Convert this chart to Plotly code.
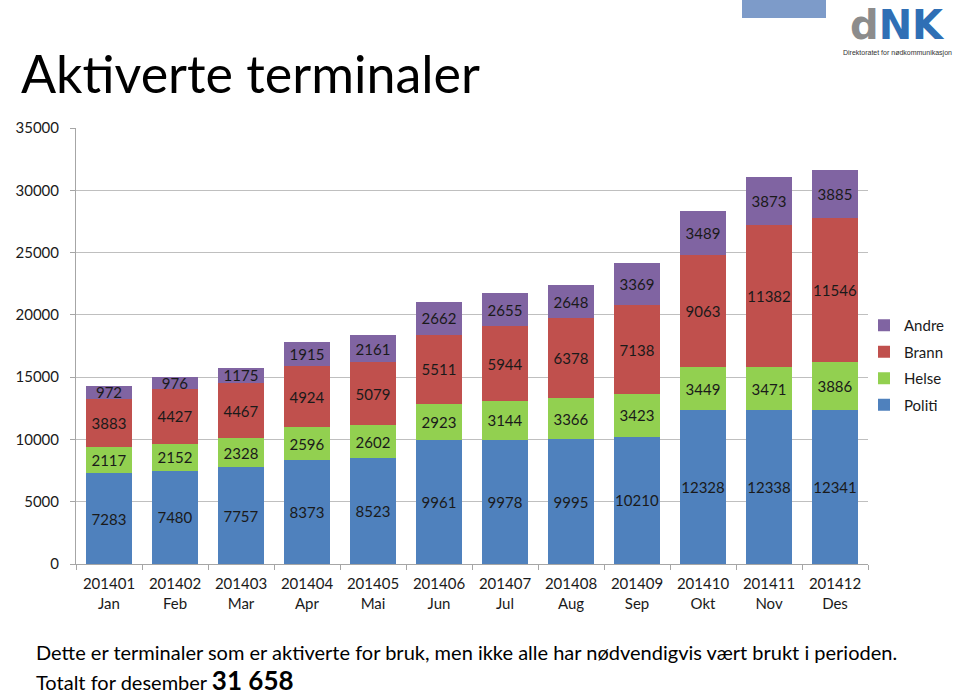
import plotly.graph_objects as go

categories = ["201401<br>Jan", "201402<br>Feb", "201403<br>Mar", "201404<br>Apr",
              "201405<br>Mai", "201406<br>Jun", "201407<br>Jul", "201408<br>Aug",
              "201409<br>Sep", "201410<br>Okt", "201411<br>Nov", "201412<br>Des"]
politi = [7283, 7480, 7757, 8373, 8523, 9961, 9978, 9995, 10210, 12328, 12338, 12341]
helse = [2117, 2152, 2328, 2596, 2602, 2923, 3144, 3366, 3423, 3449, 3471, 3886]
brann = [3883, 4427, 4467, 4924, 5079, 5511, 5944, 6378, 7138, 9063, 11382, 11546]
andre = [972, 976, 1175, 1915, 2161, 2662, 2655, 2648, 3369, 3489, 3873, 3885]

series = [("Politi", politi, "#4F81BD"), ("Helse", helse, "#92D050"),
          ("Brann", brann, "#C0504D"), ("Andre", andre, "#8064A2")]

FONT = "Lato"
fig = go.Figure()
for i, (name, vals, col) in enumerate(series):
    fig.add_trace(go.Bar(
        x=categories, y=vals, name=name, legendgroup=name, legendrank=100 - i,
        marker=dict(color=col, line=dict(width=0)),
        text=[str(v) for v in vals], textposition="inside", insidetextanchor="middle",
        textangle=0, textfont=dict(family=FONT, size=15, color="#1a1a1a"),
        hoverinfo="skip"))

L, R, T, B = 76, 92, 128, 130
pw = 960 - L - R
ph = 694 - T - B
def px(x): return (x - L) / pw
def py(y): return (694 - B - y) / ph

fig.update_layout(
    width=960, height=694, barmode="stack", bargap=0.3,
    margin=dict(l=L, r=R, t=T, b=B, autoexpand=False),
    paper_bgcolor="white", plot_bgcolor="white",
    font=dict(family=FONT, size=15, color="#1a1a1a"),
    uniformtext=dict(minsize=15, mode="show"),
    title=dict(text="Aktiverte terminaler", xref="container", yref="container",
               x=21/960, xanchor="left", y=1 - 75/694, yanchor="middle",
               font=dict(family=FONT, size=52, color="#000000")),
    legend=dict(x=px(864), y=py(309), xanchor="left", yanchor="top",
                traceorder="grouped", font=dict(family=FONT, size=15, color="#1a1a1a"),
                itemwidth=30, tracegroupgap=4, bgcolor="rgba(0,0,0,0)"),
    xaxis=dict(showline=True, linecolor="#a6a6a6", ticks="outside", tickson="boundaries",
               tickcolor="#a6a6a6", ticklen=5, showgrid=False, ticklabelstandoff=6,
               tickfont=dict(family=FONT, size=15, color="#1a1a1a")),
    yaxis=dict(range=[0, 35000], dtick=5000, tickformat="d", showline=True, linecolor="#a6a6a6",
               ticks="outside", tickcolor="#a6a6a6", ticklen=5, gridcolor="#bfbfbf",
               zeroline=False, tickfont=dict(family=FONT, size=15, color="#1a1a1a"),
               ticklabelstandoff=8),
    shapes=[dict(type="rect", xref="paper", yref="paper",
                 x0=px(742), x1=px(826), y0=py(18), y1=py(-2),
                 fillcolor="#7d9bc9", line=dict(width=0), layer="above")],
    annotations=[
        dict(text="Dette er terminaler som er aktiverte for bruk, men ikke alle har nødvendigvis vært brukt i perioden.",
             xref="paper", yref="paper", x=px(34), y=py(652), xanchor="left", yanchor="middle",
             showarrow=False, font=dict(family=FONT, size=20, color="#000000")),
        dict(text="Totalt for desember <b><span style='font-size:26px'>31 658</span></b>",
             xref="paper", yref="paper", x=px(34), y=py(680), xanchor="left", yanchor="middle",
             showarrow=False, font=dict(family=FONT, size=20, color="#000000")),
        dict(text="<b><span style='color:#8c8c8c'>d</span>NK</b>",
             xref="paper", yref="paper", x=px(897), y=py(25), xanchor="center", yanchor="middle",
             showarrow=False, font=dict(family="DejaVu Sans", size=40, color="#2f6fb5")),
        dict(text="Direktoratet for nødkommunikasjon",
             xref="paper", yref="paper", x=px(897), y=py(53), xanchor="center", yanchor="middle",
             showarrow=False, font=dict(family="Liberation Sans", size=7, color="#333333")),
    ],
)

fig.write_html("out.html", config={"displayModeBar": False},
               post_script="document.body.style.margin='0';document.body.style.padding='0';")
